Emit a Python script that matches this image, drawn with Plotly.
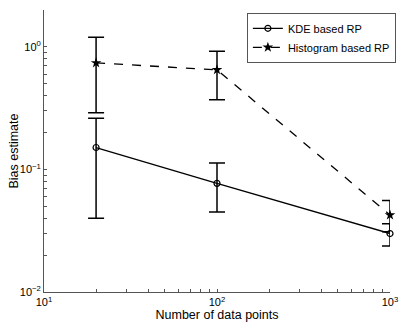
import plotly.graph_objects as go

n_points = [20, 100, 1000]
kde_bias = [0.151, 0.077, 0.030]
kde_err_hi = [0.262, 0.113, 0.036]
kde_err_lo = [0.040, 0.045, 0.0237]
hist_bias = [0.74, 0.65, 0.0425]
hist_err_hi = [1.2, 0.92, 0.0557]
hist_err_lo = [0.29, 0.37, 0.031]

x_major = [10, 100, 1000]
x_major_text = ["10<sup>1</sup>", "10<sup>2</sup>", "10<sup>3</sup>"]
y_major = [0.01, 0.1, 1]
y_major_text = ["10<sup>−2</sup>", "10<sup>−1</sup>", "10<sup>0</sup>"]


def all_ticks(majors, top):
    vals = []
    for m in majors:
        for k in range(1, 10):
            v = m * k
            if v > top * 1.0001:
                break
            vals.append(v)
    return vals


x_vals = all_ticks(x_major, 1000)
x_text = [x_major_text[x_major.index(v)] if v in x_major else "" for v in x_vals]
y_vals = all_ticks(y_major, 2)
y_text = [y_major_text[y_major.index(v)] if v in y_major else "" for v in y_vals]

fig = go.Figure()
fig.add_trace(go.Scatter(
    x=n_points, y=kde_bias, name="KDE based RP", mode="lines+markers",
    cliponaxis=False,
    line=dict(color="black", width=1.3),
    marker=dict(symbol="circle-open", size=6, color="black", line=dict(width=1.2)),
    error_y=dict(type="data", symmetric=False,
                 array=[h - v for h, v in zip(kde_err_hi, kde_bias)],
                 arrayminus=[v - l for v, l in zip(kde_bias, kde_err_lo)],
                 color="black", thickness=1.5, width=8),
))
fig.add_trace(go.Scatter(
    x=n_points, y=hist_bias, name="Histogram based RP", mode="lines+markers",
    cliponaxis=False,
    line=dict(color="black", width=1.3, dash="dash"),
    marker=dict(symbol="star", size=8, color="black"),
    error_y=dict(type="data", symmetric=False,
                 array=[h - v for h, v in zip(hist_err_hi, hist_bias)],
                 arrayminus=[v - l for v, l in zip(hist_bias, hist_err_lo)],
                 color="black", thickness=1.5, width=8),
))

font = dict(family="Liberation Sans, Arial, sans-serif", size=12, color="black")
fig.update_layout(
    width=401, height=319,
    margin=dict(l=36, r=19, t=2, b=35, autoexpand=False),
    paper_bgcolor="white", plot_bgcolor="white",
    font=font,
    showlegend=True,
    legend=dict(x=1.017, y=0.99, xanchor="right", yanchor="top",
                bordercolor="#555", borderwidth=1, bgcolor="white",
                font=dict(family="Liberation Sans, Arial, sans-serif", size=11, color="black"),
                tracegroupgap=0, itemwidth=30),
    annotations=[dict(text="Bias estimate", xref="paper", yref="paper",
                      x=-0.088, y=0.5, xanchor="center", yanchor="middle",
                      textangle=-90, showarrow=False, font=dict(size=12.5))],
)
fig.update_xaxes(
    type="log", range=[1, 3], tickmode="array", tickvals=x_vals, ticktext=x_text,
    ticks="inside", ticklen=3, tickcolor="#555", showline=True, linecolor="#555",
    linewidth=1, showgrid=False, zeroline=False, mirror=False, automargin=False,
    title=dict(text="Number of data points", standoff=0, font=dict(size=12.5)),
    tickfont=dict(size=11),
)
fig.update_yaxes(
    type="log", range=[-2, 0.301], tickmode="array", tickvals=y_vals, ticktext=y_text,
    ticks="inside", ticklen=3, tickcolor="#555", showline=True, linecolor="#555",
    linewidth=1, showgrid=False, zeroline=False, mirror=False, automargin=False,
    tickfont=dict(size=11),
)
fig.write_html("out.html")
